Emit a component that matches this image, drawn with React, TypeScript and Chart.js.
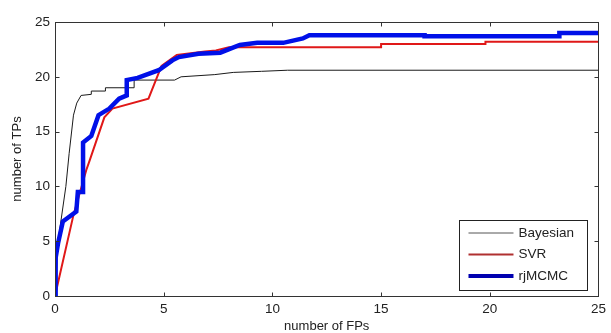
import React, { useEffect, useRef } from "react";
import { Chart, registerables } from "chart.js";

Chart.register(...registerables);

const xTicks = [0, 5, 10, 15, 20, 25];
const yTicks = [0, 5, 10, 15, 20, 25];

const seriesNames = ["Bayesian", "SVR", "rjMCMC"];

const bayesX = [0, 0.14, 0.5, 0.65, 0.85, 1.0, 1.2, 1.67, 1.67, 2.32, 2.32, 3.64, 3.64, 5.5, 5.8, 7.35, 8.2, 9.5, 10.7, 25];
const bayesY = [0, 5, 10, 13, 16.5, 17.6, 18.3, 18.4, 18.7, 18.7, 19.0, 19.0, 19.7, 19.7, 20.0, 20.2, 20.4, 20.5, 20.6, 20.6];

const svrX = [0, 0.85, 1.44, 1.6, 2.27, 2.64, 4.3, 4.9, 5.6, 6.9, 7.4, 8.0, 15.0, 15.0, 19.8, 19.8, 25];
const svrY = [0, 7.4, 11.5, 12.4, 16.3, 17.1, 18.0, 21.0, 22.0, 22.3, 22.4, 22.7, 22.7, 23.0, 23.0, 23.2, 23.2];

const mcmcX = [0, 0.03, 0.14, 0.36, 0.98, 1.05, 1.29, 1.29, 1.67, 2.0, 2.5, 2.95, 3.3, 3.3, 3.8, 4.77, 5.4, 5.7, 6.6, 7.6, 8.5, 9.3, 10.5, 11.4, 11.7, 17.0, 17.0, 23.2, 23.2, 25];
const mcmcY = [0, 3.5, 4.8, 6.8, 7.7, 9.5, 9.5, 14.0, 14.6, 16.5, 17.1, 18.0, 18.3, 19.7, 19.9, 20.6, 21.5, 21.8, 22.1, 22.2, 22.9, 23.1, 23.1, 23.5, 23.8, 23.8, 23.7, 23.7, 24.0, 24.0];

const toPts = (xs: number[], ys: number[]) => xs.map((x, i) => ({ x, y: ys[i] }));

const FONT = "'Liberation Sans', Arial, sans-serif";
const TEXT = "#222222";

const boxPlugin = {
  id: "matlabBox",
  afterDraw(chart: any) {
    const { ctx, chartArea: a, scales } = chart;
    ctx.save();
    ctx.strokeStyle = "#333333";
    ctx.lineWidth = 1;
    const L = Math.round(a.left) + 0.5, R = Math.round(a.right) + 0.5;
    const T = Math.round(a.top) + 0.5, B = Math.round(a.bottom) + 0.5;
    ctx.strokeRect(L, T, R - L, B - T);
    const tl = 4;
    ctx.beginPath();
    xTicks.forEach((v) => {
      const px = Math.round(scales.x.getPixelForValue(v)) + 0.5;
      ctx.moveTo(px, B); ctx.lineTo(px, B - tl);
      ctx.moveTo(px, T); ctx.lineTo(px, T + tl);
    });
    yTicks.forEach((v) => {
      const py = Math.round(scales.y.getPixelForValue(v)) + 0.5;
      ctx.moveTo(L, py); ctx.lineTo(L + tl, py);
      ctx.moveTo(R, py); ctx.lineTo(R - tl, py);
    });
    ctx.stroke();

    // legend inside plot area (lower right)
    const bx = a.right - 139, by = a.bottom - 76, bw = 128, bh = 70;
    ctx.fillStyle = "#ffffff";
    ctx.fillRect(bx, by, bw, bh);
    ctx.strokeStyle = "#222222";
    ctx.lineWidth = 1;
    ctx.strokeRect(Math.round(bx) + 0.5, Math.round(by) + 0.5, bw, bh);
    const legendColors = ["#555555", "#b03030", "#0000b0"];
    const legendWidths = [1, 2, 4];
    chart.data.datasets.forEach((ds: any, i: number) => {
      const y = by + 13 + i * 21.5;
      ctx.strokeStyle = legendColors[i];
      ctx.lineWidth = legendWidths[i];
      ctx.beginPath();
      ctx.moveTo(bx + 9, y);
      ctx.lineTo(bx + 54, y);
      ctx.stroke();
      ctx.fillStyle = TEXT;
      ctx.font = `13.5px ${FONT}`;
      ctx.textBaseline = "middle";
      ctx.textAlign = "left";
      ctx.fillText(ds.label, bx + 59, y);
    });
    ctx.restore();
  },
};

export default function App() {
  const ref = useRef<HTMLCanvasElement>(null);
  useEffect(() => {
    if (!ref.current) return;
    const chart = new Chart(ref.current, {
      type: "scatter",
      data: {
        datasets: [
          {
            label: seriesNames[0],
            data: toPts(bayesX, bayesY),
            showLine: true,
            borderColor: "#1a1a1a",
            borderWidth: 1,
            pointRadius: 0,
            order: 2,
          },
          {
            label: seriesNames[1],
            data: toPts(svrX, svrY),
            showLine: true,
            borderColor: "#e01818",
            borderWidth: 2,
            pointRadius: 0,
            order: 1,
          },
          {
            label: seriesNames[2],
            data: toPts(mcmcX, mcmcY),
            showLine: true,
            borderColor: "#0010e8",
            borderWidth: 4.5,
            pointRadius: 0,
            order: 0,
          },
        ],
      },
      options: {
        animation: false,
        responsive: false,
        maintainAspectRatio: false,
        layout: { padding: { top: 22, right: 6, left: 0, bottom: 0 } },
        plugins: { legend: { display: false }, tooltip: { enabled: false } },
        scales: {
          x: {
            type: "linear",
            min: 0,
            max: 25,
            afterFit: (s: any) => { s.height = 37; },
            afterBuildTicks: (s: any) => { s.ticks = xTicks.map((v) => ({ value: v })); },
            grid: { display: false, drawTicks: false },
            border: { display: false },
            ticks: { color: TEXT, font: { family: FONT, size: 13.5 }, padding: 5, maxRotation: 0 },
            title: { display: true, text: "number of FPs", color: TEXT, font: { family: FONT, size: 13, lineHeight: 1.0 }, padding: { top: 0, bottom: 0 } },
          },
          y: {
            type: "linear",
            min: 0,
            max: 25,
            afterFit: (s: any) => { s.width = 55; },
            afterBuildTicks: (s: any) => { s.ticks = yTicks.map((v) => ({ value: v })); },
            grid: { display: false, drawTicks: false },
            border: { display: false },
            ticks: { color: TEXT, font: { family: FONT, size: 13.5 }, padding: 5 },
            title: { display: true, text: "number of TPs", color: TEXT, font: { family: FONT, size: 13 }, padding: { top: 10, bottom: 0 } },
          },
        },
      },
      plugins: [boxPlugin],
    } as any);
    return () => chart.destroy();
  }, []);
  return (
    <div style={{ position: "absolute", left: 0, top: 0, width: 611, height: 333, background: "#fff" }}>
      <canvas ref={ref} width={611} height={333} style={{ display: "block" }} />
    </div>
  );
}
